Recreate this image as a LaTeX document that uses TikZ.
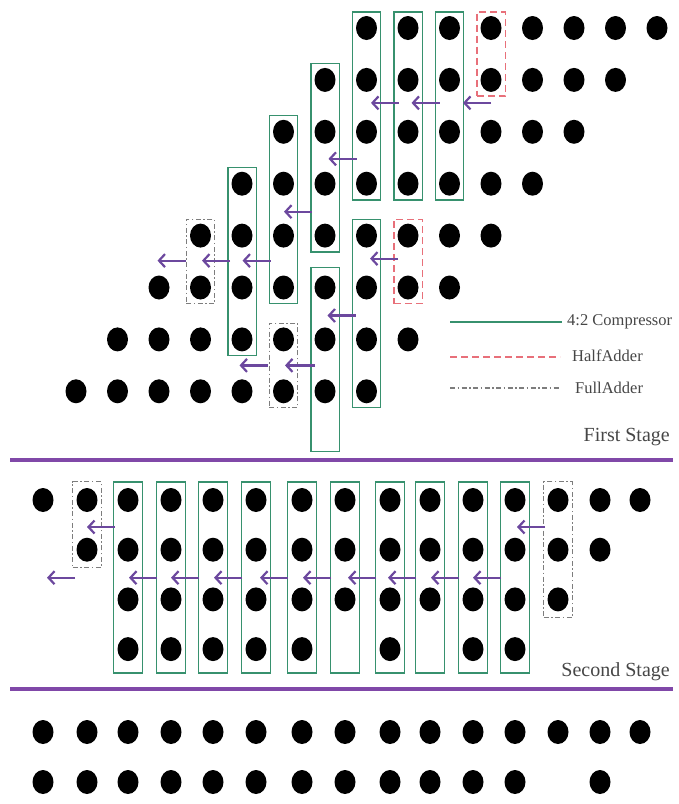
\documentclass[tikz,border=0pt]{standalone}
\usepackage{fontspec}
\setmainfont{Liberation Serif}
\usetikzlibrary{arrows.meta,calc,fit,shapes.geometric}

\definecolor{compgreen}{RGB}{55,145,110}
\definecolor{halfred}{RGB}{232,112,122}
\definecolor{fullgray}{RGB}{125,125,125}
\definecolor{carrypurple}{RGB}{108,72,158}
\definecolor{stagepurple}{RGB}{128,72,168}
\definecolor{labelgray}{RGB}{70,70,70}

\begin{document}
\begin{tikzpicture}[
  x=1pt,y=-1pt,
  dot/.style={ellipse,fill=black,minimum width=21pt,minimum height=24pt,inner sep=0pt},
  comp/.style={draw=compgreen,line width=1.4pt,inner xsep=3.5pt,inner ysep=4pt},
  halfadd/.style={comp,draw=halfred,dash pattern=on 7pt off 4pt},
  fulladd/.style={comp,draw=fullgray,line width=1.1pt,dash pattern=on 5pt off 2.5pt on 1.5pt off 2.5pt},
  carry/.style={draw=carrypurple,line width=2.2pt,-{Straight Barb[length=6pt,width=13pt]}},
  stageline/.style={draw=stagepurple,line width=4pt},
  stagelabel/.style={anchor=east,text=labelgray,font=\fontsize{20}{24}\selectfont,inner sep=0pt},
  keylabel/.style={anchor=west,text=labelgray,font=\fontsize{16.5}{19}\selectfont,inner sep=0pt}
]
  \useasboundingbox (0,0) rectangle (679,804);

  % first stage: partial products
  \foreach \r in {0,...,7}{
    \pgfmathtruncatemacro\cs{7-\r}
    \pgfmathtruncatemacro\ce{14-\r}
    \foreach \c in {\cs,...,\ce}
      \node[dot] (t\c-\r) at ({76+41.5*\c},{28+51.9*\r}) {};
  }
  \coordinate (t6-8) at ({76+41.5*6},{28+51.9*8});

  \foreach \c in {7,8,9}
    \node[comp,fit=(t\c-0)(t\c-3)] (ca\c) {};
  \node[comp,fit=(t6-1)(t6-4)] (ca6) {};
  \node[comp,fit=(t5-2)(t5-5)] (ca5) {};
  \node[comp,fit=(t4-3)(t4-6)] (ca4) {};
  \node[comp,fit=(t7-4)(t7-7)] (cb7) {};
  \node[comp,fit=(t6-5)(t6-8),inner ysep=8pt] (cb6) {};
  \node[halfadd,fit=(t10-0)(t10-1)] (ha10) {};
  \node[halfadd,fit=(t8-4)(t8-5)] (ha8) {};
  \node[fulladd,fit=(t3-4)(t3-5)] (fa3) {};
  \node[fulladd,fit=(t5-6)(t5-7)] (fa5) {};

  \draw[carry] ($(t8-1)+(-9,23)$) -- ++(-28,0);
  \draw[carry] ($(t9-1)+(-10,23)$) -- ++(-28,0);
  \draw[carry] ($(t10-1)+(0,23)$) -- ++(-28,0);
  \draw[carry] ($(t7-2)+(-10,27)$) -- ++(-28,0);
  \draw[carry] ($(t6-3)+(-13,28)$) -- ++(-28,0);
  \draw[carry] ($(t3-4)+(-15,25)$) -- ++(-28,0);
  \draw[carry] ($(t4-4)+(-12,25)$) -- ++(-28,0);
  \draw[carry] ($(t5-4)+(-13,25)$) -- ++(-28,0);
  \draw[carry] ($(t8-4)+(-10,23)$) -- ++(-28,0);
  \draw[carry] ($(t7-5)+(-11,28)$) -- ++(-28,0);
  \draw[carry] ($(t5-6)+(-16,26)$) -- ++(-28,0);
  \draw[carry] ($(t6-6)+(-10,26)$) -- ++(-30,0);

  % legend
  \draw[comp] (450,322) -- (562,322);
  \node[keylabel] (key42) at (567,322) {4:2 Compressor};
  \draw[halfadd] (450,357) -- (560,357);
  \node[keylabel] (keyha) at (572,356) {HalfAdder};
  \draw[fulladd] (450,388) -- (560,388);
  \node[keylabel] (keyfa) at (575,388) {FullAdder};

  \node[stagelabel] (first) at (670,437) {First Stage};
  \draw[stageline] (10,460) -- (673,460);

  % second stage
  \def\colx{{43,87,128,171,213,256,302,345,390,430,473,515,558,600,640}}
  \foreach \r/\cols in {0/{0,...,14},1/{1,...,13},2/{2,...,12},3/{2,3,4,5,6,8,10,11}}
    \foreach \c in \cols {
      \pgfmathsetmacro\x{\colx[\c]}
      \node[dot] (s\c-\r) at (\x,{500+49.7*\r}) {};
    }

  \foreach \c in {2,...,11}{
    \pgfmathsetmacro\x{\colx[\c]}
    \node[comp,minimum width=29pt,minimum height=191pt,inner sep=0pt] (k\c) at (\x,577.5) {};
  }
  \node[fulladd,fit=(s1-0)(s1-1),inner ysep=6pt] (fa1) {};
  \node[fulladd,fit=(s12-0)(s12-2),inner ysep=6pt] (fa12) {};

  \draw[carry] ($(s2-0)+(-13,27)$) -- ++(-28,0);
  \draw[carry] ($(s12-0)+(-13,27)$) -- ++(-28,0);
  \draw[carry] ($(s1-1)+(-12,28)$) -- ++(-28,0);
  \foreach \c in {3,...,11}
    \draw[carry] ($(s\c-1)+(-14,28)$) -- ++(-28,0);

  \node[stagelabel] (second) at (670,672) {Second Stage};
  \draw[stageline] (10,689) -- (673,689);

  % result
  \foreach \r/\cols in {0/{0,...,14},1/{0,1,2,3,4,5,6,7,8,9,10,11,13}}
    \foreach \c in \cols {
      \pgfmathsetmacro\x{\colx[\c]}
      \node[dot] (b\c-\r) at (\x,{732+50*\r}) {};
    }
\end{tikzpicture}
\end{document}
